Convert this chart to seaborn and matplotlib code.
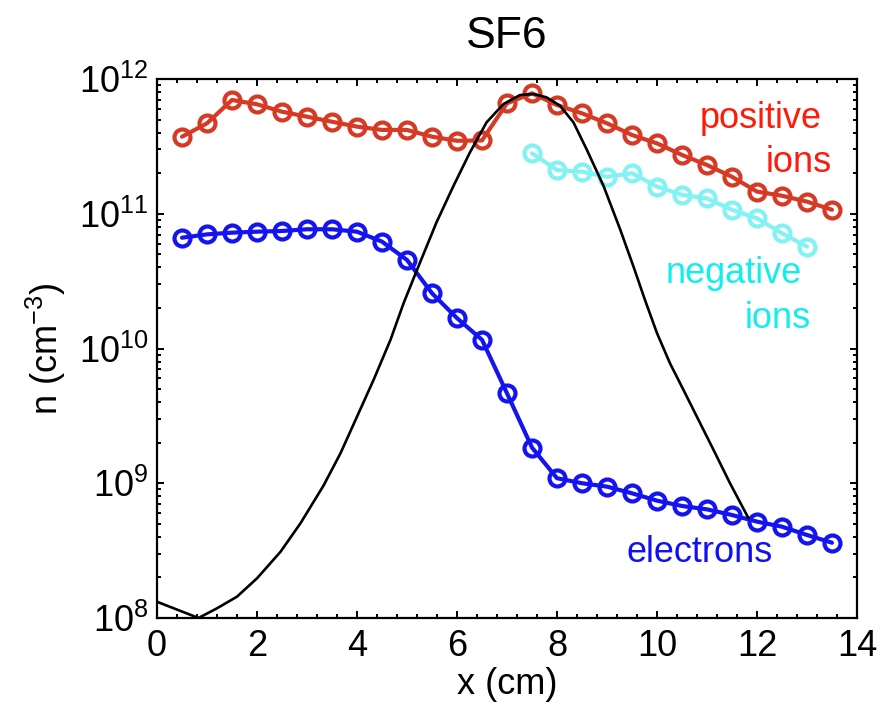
import numpy as np
import pandas as pd
import matplotlib
matplotlib.use("Agg")
import matplotlib.pyplot as plt
import matplotlib.ticker as mticker
import seaborn as sns

# ---------------- data ----------------
x_pos = [0.5, 1.0, 1.5, 2.0, 2.5, 3.0, 3.5, 4.0, 4.5, 5.0, 5.5, 6.0, 6.5,
         7.0, 7.5, 8.0, 8.5, 9.0, 9.5, 10.0, 10.5, 11.0, 11.5, 12.0, 12.5, 13.0, 13.5]
positive_ions = [3.73e11, 4.69e11, 6.99e11, 6.49e11, 5.72e11, 5.25e11, 4.82e11, 4.43e11,
                 4.19e11, 4.19e11, 3.73e11, 3.48e11, 3.50e11, 6.60e11, 7.83e11, 6.41e11,
                 5.56e11, 4.69e11, 3.84e11, 3.33e11, 2.73e11, 2.30e11, 1.88e11, 1.46e11,
                 1.36e11, 1.23e11, 1.07e11]

x_neg = [7.5, 8.0, 8.5, 9.0, 9.5, 10.0, 10.5, 11.0, 11.5, 12.0, 12.5, 13.0]
negative_ions = [2.81e11, 2.11e11, 2.05e11, 1.88e11, 2.00e11, 1.59e11, 1.38e11, 1.30e11,
                 1.07e11, 9.25e10, 7.16e10, 5.70e10]

x_el = x_pos
electrons = [6.64e10, 7.03e10, 7.24e10, 7.36e10, 7.45e10, 7.67e10, 7.67e10, 7.36e10,
             6.21e10, 4.54e10, 2.57e10, 1.68e10, 1.16e10, 4.65e9, 1.84e9, 1.09e9,
             1.00e9, 9.44e8, 8.42e8, 7.43e8, 6.78e8, 6.40e8, 5.81e8, 5.19e8, 4.76e8,
             4.13e8, 3.62e8]

x_black = [0.0, 0.83, 1.2, 1.6, 2.0, 2.47, 2.87, 3.33, 3.67, 4.0, 4.33, 4.67, 4.93,
           5.2, 5.59, 5.93, 6.26, 6.59, 6.93, 7.26, 7.53, 7.79, 8.06, 8.33, 8.59,
           8.93, 9.26, 9.53, 9.76, 10.0, 10.26, 10.53, 10.83, 11.13, 11.46, 11.83]
black_curve = [1.32e8, 1.0e8, 1.18e8, 1.44e8, 1.97e8, 3.10e8, 5.05e8, 9.6e8, 1.67e9,
               3.12e9, 5.83e9, 1.16e10, 2.16e10, 3.83e10, 8.63e10, 1.61e11, 2.86e11,
               4.76e11, 6.52e11, 7.60e11, 7.74e11, 7.31e11, 6.34e11, 4.76e11, 3.02e11,
               1.61e11, 7.71e10, 4.05e10, 2.29e10, 1.30e10, 7.76e9, 4.92e9, 2.95e9,
               1.77e9, 1.0e9, 5.50e8]

x_ticks = [0, 2, 4, 6, 8, 10, 12, 14]
title = "SF6"

# ---------------- style ----------------
sns.set_theme(style="ticks")
plt.rcParams['font.family'] = ['Liberation Sans', 'DejaVu Sans']
plt.rcParams['mathtext.fontset'] = 'custom'
plt.rcParams['mathtext.rm'] = 'Liberation Sans'
plt.rcParams['mathtext.it'] = 'Liberation Sans'
plt.rcParams['text.color'] = 'black'
plt.rcParams['axes.labelcolor'] = 'black'

fig = plt.figure(figsize=(8.9, 7.07), dpi=100)
ax = fig.add_axes([157 / 890, 1 - 618 / 707, 700 / 890, 539 / 707])

red_m = '#d63a25'
cyan_m = '#84f2f2'
blue_m = '#1414f0'

mk = dict(marker='o', markersize=11.5, markerfacecolor='none', markeredgewidth=3.0,
          linewidth=3.0)

sns.lineplot(x=x_pos, y=positive_ions, ax=ax, color=red_m, markeredgecolor=red_m,
             zorder=3, **mk)
sns.lineplot(x=x_neg, y=negative_ions, ax=ax, color=cyan_m, markeredgecolor=cyan_m,
             zorder=2, **mk)
sns.lineplot(x=x_el, y=electrons, ax=ax, color=blue_m, markeredgecolor=blue_m,
             zorder=3, **mk)
sns.lineplot(x=x_black, y=black_curve, ax=ax, color='black', linewidth=1.9, zorder=4,
             sort=False)

ax.set_yscale('log')
ax.set_xlim(0, 14)
ax.set_ylim(1e8, 1e12)
ax.set_xticks(x_ticks)
ax.set_xticklabels([str(t) for t in x_ticks])
ax.xaxis.set_minor_locator(mticker.MultipleLocator(0.4))
ax.yaxis.set_major_locator(mticker.LogLocator(base=10, numticks=10))
ax.yaxis.set_minor_locator(mticker.LogLocator(base=10, subs=np.arange(2, 10), numticks=20))
ax.yaxis.set_major_formatter(mticker.LogFormatterSciNotation())

for s in ax.spines.values():
    s.set_linewidth(1.6)
    s.set_color('black')
    s.set_visible(True)
ax.tick_params(which='both', direction='in', top=True, right=True, width=1.4,
               colors='black', labelsize=26)
ax.tick_params(which='major', length=5)
ax.tick_params(which='minor', length=3)
ax.tick_params(axis='x', pad=8)
ax.tick_params(axis='y', pad=6)

ax.set_xlabel('x (cm)', fontsize=26, labelpad=2, color='black')
ax.set_ylabel(r'n (cm$^{\mathdefault{-3}}$)', fontsize=26, labelpad=8, color='black')
ax.set_title(title, fontsize=32, pad=22, color='black')

ax.text(13.29, 10**11.636, 'positive', color='#ff1a0a', fontsize=26, ha='right', va='baseline')
ax.text(13.49, 10**11.312, 'ions', color='#ff1a0a', fontsize=26, ha='right', va='baseline')
ax.text(11.54, 10**10.486, 'negative', color='#12eeee', fontsize=26, ha='center', va='baseline')
ax.text(12.42, 10**10.152, 'ions', color='#12eeee', fontsize=26, ha='center', va='baseline')
ax.text(10.86, 10**8.418, 'electrons', color='#1010f0', fontsize=26, ha='center', va='baseline')

ax.grid(False)
fig.savefig('out.png', dpi=100)
